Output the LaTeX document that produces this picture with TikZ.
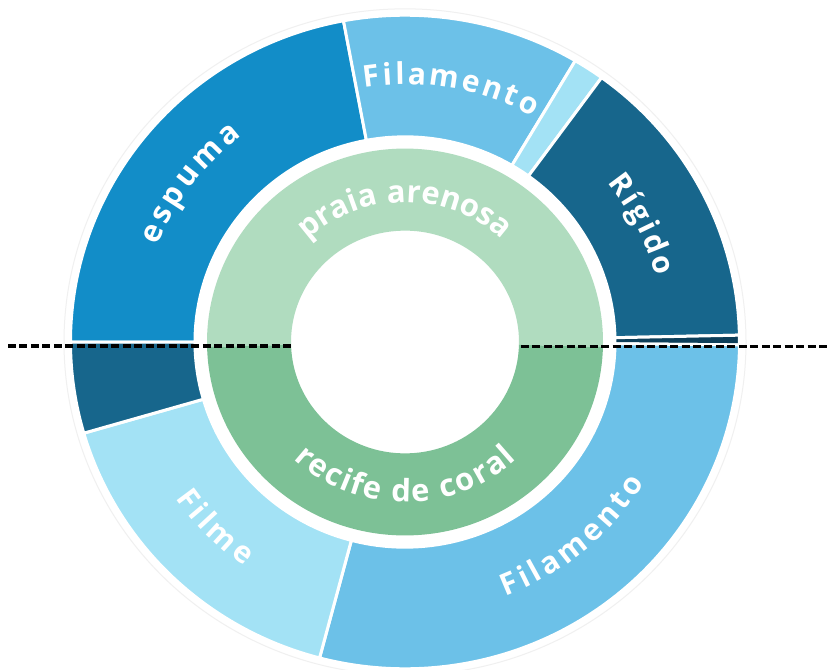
\documentclass[tikz,border=0pt]{standalone}
\usepackage{fontspec}
\setmainfont{Open Sans}
\definecolor{cEsp}{HTML}{128DC8}
\definecolor{cFil}{HTML}{6CC1E8}
\definecolor{cLight}{HTML}{A3E2F5}
\definecolor{cDark}{HTML}{17668C}
\definecolor{cDeep}{HTML}{0D3F5A}
\definecolor{cPraia}{HTML}{B0DCBF}
\definecolor{cRecife}{HTML}{7DC196}
\newlength\alw
\newcommand\alfont[1]{\fontsize{#1}{#1}\selectfont\bfseries}
\newcommand\almeasure[2]{\pgfinterruptpicture\settowidth\alw{\alfont{#1}#2}\global\alw=\alw\endpgfinterruptpicture}
\newcommand\ringseg[6]{% #1 options, #2 start, #3 end, #4 rin, #5 rout, #6 name
  \path[#1] (#2:#5) arc[start angle=#2,end angle=#3,radius=#5] -- (#3:#4) arc[start angle=#3,end angle=#2,radius=#4] -- cycle;
  \coordinate (#6) at ({(#2+#3)/2}:{(#4+#5)/2});}
% #1 layout radius, #2 mid angle, #3 extra spacing (px), #4 dir (1 top, -1 bottom), #5 font size (pt), #6 char list
\newcommand\arclabel[6]{%
  \xdef\altot{0}%
  \foreach \alc in {#6}{%
    \almeasure{#5}{\alc}%
    \pgfmathsetmacro\altmp{\altot+\alw/0.75+#3}%
    \xdef\altot{\altmp}%
  }%
  \pgfmathsetmacro\altotal{\altot-#3}%
  \xdef\altotal{\altotal}%
  \pgfmathsetmacro\alrb{#1-(#4)*0.363*#5}%
  \xdef\alrb{\alrb}%
  \xdef\alpos{0}%
  \foreach \alc in {#6}{%
    \almeasure{#5}{\alc}%
    \pgfmathsetmacro\alww{\alw/0.75}%
    \pgfmathsetmacro\alang{#2+(#4)*(\altotal/2-\alpos-\alww/2)/(#1)*180/pi}%
    \pgfmathsetmacro\alrot{\alang-(#4)*90}%
    \node[alchar, rotate=\alrot] at (\alang:\alrb) {\alfont{#5}\alc};
    \pgfmathsetmacro\altmp{\alpos+\alww+#3}%
    \xdef\alpos{\altmp}%
  }%
}
\tikzset{
  alchar/.style={inner sep=0pt, outer sep=0pt, text=white, anchor=base},
  outerseg/.style={fill=#1, draw=white, line width=2.25pt, line join=miter},
  innerseg/.style={fill=#1},
  splitline/.style={black, line width=2.8pt, dash pattern=on 6pt off 2.6pt}
}
\begin{document}
\begin{tikzpicture}[x=0.75pt,y=0.75pt]
\useasboundingbox (0,0) rectangle (830,669);
\fill[white] (0,0) rectangle (830,669);
\begin{scope}[shift={(405,327)},yscale=0.977]
  \draw[black!6, line width=0.75pt] (0,0) circle[radius=341];
  % outer ring
  \ringseg{outerseg=cEsp}{100.6}{180}{210}{334.5}{espuma}
  \ringseg{outerseg=cFil}{59.4}{100.6}{210}{334.5}{filA}
  \ringseg{outerseg=cLight}{54}{59.4}{210}{334.5}{sliver}
  \ringseg{outerseg=cDark}{1.2}{54}{210}{334.5}{rigido}
  \ringseg{outerseg=cDeep}{-0.5}{1.2}{210}{334.5}{deep}
  \ringseg{outerseg=cFil}{-104.8}{-0.5}{210}{334.5}{filB}
  \ringseg{outerseg=cLight}{196.2}{255.2}{210}{334.5}{filme}
  \ringseg{outerseg=cDark}{180}{196.2}{210}{334.5}{darkL}
  % inner ring
  \ringseg{innerseg=cPraia}{-1.5}{181.5}{114}{198}{praia}
  \ringseg{innerseg=cRecife}{181.5}{358.5}{114}{198}{recife}
  % labels
  \arclabel{272}{80}{3.5}{1}{22.5}{F,i,l,a,m,e,n,t,o}
  \arclabel{275}{143}{5}{1}{23}{e,s,p,u,m,a}
  \arclabel{268}{27}{3.5}{1}{22.5}{R,í,g,i,d,o}
  \arclabel{271}{-50}{3.5}{-1}{22.5}{F,i,l,a,m,e,n,t,o}
  \arclabel{272}{225}{3.5}{-1}{22.5}{F,i,l,m,e}
  \arclabel{151.5}{90}{1}{1}{23.25}{p,r,a,i,a,\ ,a,r,e,n,o,s,a}
  \arclabel{155.6}{270}{1}{-1}{23.25}{r,e,c,i,f,e,\ ,d,e,\ ,c,o,r,a,l}
\end{scope}
\coordinate (dl1) at (8,323);
\coordinate (dl2) at (291,323);
\coordinate (dr1) at (521,322.5);
\coordinate (dr2) at (830,322.5);
\draw[splitline] (dl1) -- (dl2);
\draw[splitline] (dr1) -- (dr2);
\end{tikzpicture}
\end{document}
